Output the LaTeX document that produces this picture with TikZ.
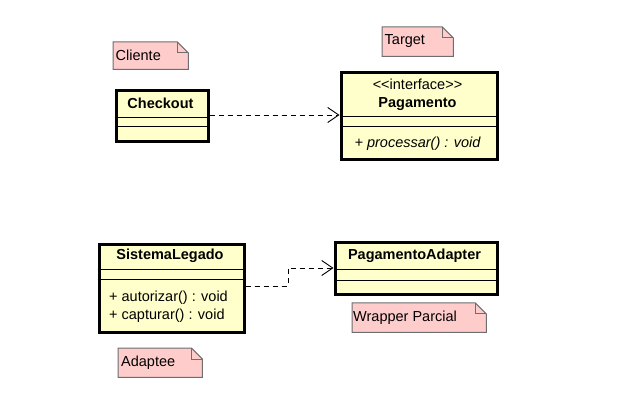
\documentclass[tikz,border=0pt]{standalone}
\usepackage{fontspec}
\setmainfont{Liberation Sans}
\usetikzlibrary{arrows.meta,backgrounds}
\definecolor{Y}{RGB}{255, 255, 204}
\definecolor{P}{RGB}{255, 204, 204}
\definecolor{N}{RGB}{110, 110, 110}

\tikzset{
  classbox/.style={draw=black, line width=3pt, fill=Y, anchor=north west, inner sep=0pt},
  title/.style={font=\fontsize{14.5}{17}\selectfont\bfseries, inner sep=0pt},
  member/.style={font=\fontsize{14.5}{17}\selectfont, inner sep=0pt},
  notebox/.style={anchor=north west, inner sep=0pt},
  notetext/.style={font=\fontsize{14.5}{17}\selectfont, inner sep=0pt, anchor=west},
  dep/.style={black, line width=0.9pt, dash pattern=on 5pt off 4pt, -{Straight Barb[length=11pt,width=15pt,line width=0.9pt]}},
}

\begin{document}
\begin{tikzpicture}[x=1pt, y=-1pt]
   \useasboundingbox (0,0) rectangle (642,411);

   % classes
   \node[classbox, minimum width=92pt, minimum height=51pt] (checkout) at (114.5,89.5) {};
   \node[title] (checkoutT) at (160.5,103) {Checkout};
   \draw[line width=1pt] (checkout.west |- 0,118) -- (checkout.east |- 0,118);
   \draw[line width=1pt] (checkout.west |- 0,127) -- (checkout.east |- 0,127);

   \node[classbox, minimum width=156pt, minimum height=87pt] (pagamento) at (339.5,71.5) {};
   \node[member] (pagamentoS) at (417.5,84) {{<}{<}interface{>}{>}};
   \node[title] (pagamentoT) at (417.5,104) {Pagamento};
   \draw[line width=1pt] (pagamento.west |- 0,117) -- (pagamento.east |- 0,117);
   \draw[line width=1pt] (pagamento.west |- 0,127) -- (pagamento.east |- 0,127);
   \node[member, font=\fontsize{14.5}{17}\selectfont\itshape] (pagamentoOp) at (417.5,144) {+ processar() : void};

   \node[classbox, minimum width=145pt, minimum height=87pt] (sistema) at (97.5,243.5) {};
   \node[title] (sistemaT) at (170,256) {SistemaLegado};
   \draw[line width=1pt] (sistema.west |- 0,270) -- (sistema.east |- 0,270);
   \draw[line width=1pt] (sistema.west |- 0,280) -- (sistema.east |- 0,280);
   \node[member, anchor=west] (sistemaOp1) at (109,298) {+ autorizar() : void};
   \node[member, anchor=west] (sistemaOp2) at (109,316) {+ capturar() : void};

   \node[classbox, minimum width=162pt, minimum height=52pt] (adapter) at (333.5,241.5) {};
   \node[title] (adapterT) at (414.5,256) {PagamentoAdapter};
   \draw[line width=1pt] (adapter.west |- 0,270) -- (adapter.east |- 0,270);
   \draw[line width=1pt] (adapter.west |- 0,281) -- (adapter.east |- 0,281);

   % notes
   \node[notebox, minimum width=75pt, minimum height=27pt] (cliente) at (113,42) {};
   \node[notetext] (clienteT) at (115.5,55.5) {Cliente};
   \node[notebox, minimum width=71pt, minimum height=29pt] (target) at (382,27) {};
   \node[notetext] (targetT) at (384.5,41.5) {Target};
   \node[notebox, minimum width=134pt, minimum height=29pt] (wrapper) at (352,303) {};
   \node[notetext] (wrapperT) at (353,317.5) {Wrapper Parcial};
   \node[notebox, minimum width=84pt, minimum height=29pt] (adaptee) at (118,348) {};
   \node[notetext] (adapteeT) at (121,362.5) {Adaptee};
   \begin{scope}[on background layer]
   \foreach \n in {cliente, target, wrapper, adaptee} {
      \filldraw[fill=P, draw=N, line width=1pt] (\n.south west) -- (\n.north west)
         -- ([xshift=-11pt]\n.north east) -- ([yshift=-11pt]\n.north east)
         -- (\n.south east) -- cycle;
      \draw[N, line width=1pt] ([xshift=-11pt]\n.north east) |- ([yshift=-11pt]\n.north east);
   }
   \end{scope}

   % dependencies
   \draw[dep] (checkout.east |- 0,115) -- (pagamento.west |- 0,115);
   \draw[dep] (sistema.east |- 0,286) -| (288,268) -- (adapter.west |- 0,268);
\end{tikzpicture}
\end{document}
